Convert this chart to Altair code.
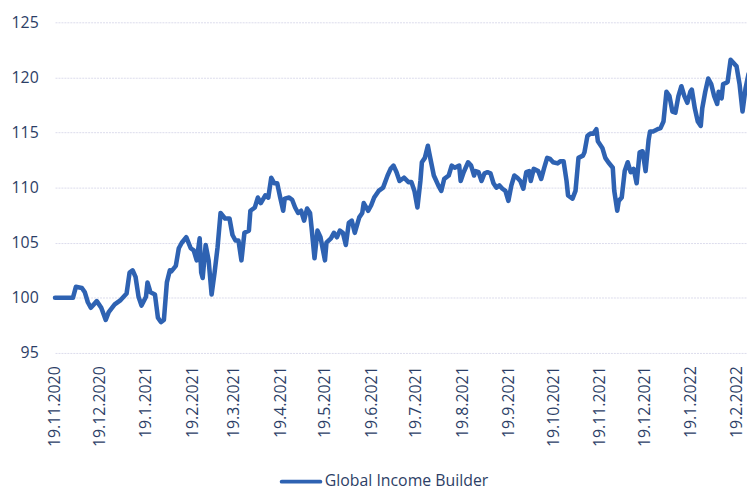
import altair as alt
import pandas as pd

# Day offsets from 19.11.2020 and index values
days = [0, 4, 8, 12, 14, 18, 20, 22, 24, 28, 31, 34, 36, 40, 44, 48, 50, 52, 54, 56,
        58, 61, 62, 64, 67, 69, 71, 73, 75, 77, 78, 81, 83, 85, 88, 91, 93, 95, 97, 98,
        99, 101, 103, 105, 107, 109, 111, 114, 117, 119, 121, 123, 125, 127, 130, 131, 134, 136, 138, 141,
        143, 145, 147, 149, 151, 153, 154, 157, 159, 161, 163, 165, 167, 169, 171, 172, 174, 176, 178, 181,
        182, 185, 187, 189, 191, 193, 195, 197, 199, 201, 204, 206, 207, 210, 212, 214, 217, 220, 223, 225,
        227, 229, 231, 234, 237, 239, 241, 243, 245, 246, 248, 250, 251, 254, 255, 257, 259, 261, 264, 266,
        268, 271, 272, 274, 277, 279, 281, 282, 284, 286, 288, 290, 292, 294, 296, 298, 300, 302, 304, 306,
        308, 310, 312, 314, 316, 318, 319, 321, 324, 326, 328, 330, 332, 334, 337, 339, 341, 343, 344, 347,
        349, 351, 354, 355, 357, 359, 361, 363, 364, 367, 369, 371, 374, 375, 377, 378, 380, 382, 384, 386,
        388, 390, 392, 394, 396, 398, 399, 401, 404, 406, 408, 410, 412, 414, 416, 418, 420, 422, 424, 426,
        427, 429, 431, 433, 434, 436, 438, 440, 442, 444, 445, 447, 448, 450, 451, 453, 455, 457, 459, 461,
        463, 465]
values = [100.0, 100.0, 100.0, 100.0, 101.0, 100.9, 100.5, 99.6, 99.1, 99.7, 99.1, 98.0, 98.7, 99.4, 99.8, 100.4, 102.3, 102.5, 101.9, 100.1,
          99.3, 100.1, 101.4, 100.5, 100.3, 98.2, 97.8, 98.0, 101.4, 102.5, 102.4, 102.9, 104.5, 105.0, 105.5, 104.5, 104.3, 103.4, 105.4, 102.3,
          101.8, 104.8, 103.4, 100.3, 102.3, 104.6, 107.7, 107.2, 107.2, 105.7, 105.2, 105.2, 103.4, 105.9, 106.1, 107.9, 108.2, 109.1, 108.6, 109.3,
          109.1, 110.9, 110.4, 110.4, 109.1, 107.9, 109.0, 109.1, 108.9, 108.2, 107.7, 107.9, 107.0, 108.1, 107.7, 106.4, 103.6, 106.1, 105.5, 103.4,
          105.0, 105.4, 105.9, 105.5, 106.1, 105.9, 104.8, 106.8, 107.0, 105.9, 107.3, 107.7, 108.6, 107.9, 108.4, 109.1, 109.7, 110.0, 111.1, 111.7,
          112.0, 111.4, 110.6, 110.9, 110.5, 110.5, 109.7, 108.2, 110.6, 112.3, 112.7, 113.8, 113.1, 111.1, 110.8, 110.2, 109.7, 110.8, 111.1, 112.0,
          111.8, 112.0, 110.6, 111.4, 112.3, 112.0, 111.1, 111.5, 111.4, 110.6, 111.3, 111.4, 111.3, 110.4, 110.0, 110.2, 109.9, 109.7, 108.8, 110.2,
          111.1, 110.9, 110.6, 109.9, 111.4, 111.5, 110.6, 111.7, 111.5, 110.8, 111.8, 112.7, 112.6, 112.3, 112.2, 112.4, 112.4, 110.6, 109.3, 109.0,
          109.7, 112.7, 112.9, 113.2, 114.7, 114.9, 114.9, 115.3, 114.2, 113.6, 112.7, 112.3, 111.8, 109.7, 107.9, 108.8, 109.1, 111.5, 112.3, 111.4,
          111.7, 110.4, 113.2, 113.3, 111.5, 114.3, 115.1, 115.1, 115.3, 115.4, 116.0, 118.7, 118.3, 116.9, 116.8, 118.3, 119.2, 118.3, 117.7, 118.7,
          118.9, 117.2, 116.0, 115.6, 117.2, 118.7, 119.9, 119.4, 118.3, 117.6, 118.7, 118.1, 119.4, 119.5, 119.6, 121.6, 121.3, 121.0, 119.4, 116.9,
          119.0, 120.3]

series_name = "Global Income Builder"
y_ticks = [95, 100, 105, 110, 115, 120, 125]
tick_months = [(2020, 11), (2020, 12), (2021, 1), (2021, 2), (2021, 3), (2021, 4), (2021, 5), (2021, 6),
               (2021, 7), (2021, 8), (2021, 9), (2021, 10), (2021, 11), (2021, 12), (2022, 1), (2022, 2)]

start = pd.Timestamp("2020-11-19")
df = pd.DataFrame({
    "date": [start + pd.Timedelta(days=d) for d in days],
    "value": values,
    "series": series_name,
})
legend_df = pd.DataFrame({"series": [series_name]})

label_color = "#2c3e66"
line_color = "#2e62b2"
font = "Open Sans"

x_values = [alt.DateTime(year=y, month=m, date=19) for (y, m) in tick_months]

line = alt.Chart(df).mark_line(strokeWidth=4.6, strokeJoin="round", strokeCap="round",
                               color=line_color).encode(
    x=alt.X("date:T",
            scale=alt.Scale(domain=[alt.DateTime(year=2020, month=11, date=19),
                                    alt.DateTime(year=2022, month=2, date=26)], nice=False),
            axis=alt.Axis(values=x_values, format="%-d.%-m.%Y", labelAngle=270,
                          grid=False, domain=False, ticks=False, labelPadding=13,
                          labelFont=font, labelFontSize=16, labelColor=label_color,
                          labelOverlap=False, labelBound=False, labelFlush=False, title=None)),
    y=alt.Y("value:Q",
            scale=alt.Scale(domain=[95, 125], nice=False, zero=False),
            axis=alt.Axis(values=y_ticks, domain=False, ticks=False, labelPadding=17,
                          labelFont=font, labelFontSize=16, labelColor=label_color,
                          gridColor="#dcdcec", gridWidth=1, gridDash=[2, 1], title=None)),
)

# Legend drawn below the plot: a short thick stroke and the series name
legend_symbol = alt.Chart(legend_df).mark_rule(strokeWidth=4, strokeCap="round",
                                               color=line_color).encode(
    x=alt.value(229), x2=alt.value(268), y=alt.value(464)
)
legend_text = alt.Chart(legend_df).mark_text(align="left", baseline="middle", font=font,
                                             fontSize=16, color=label_color).encode(
    text="series:N", x=alt.value(272.5), y=alt.value(463)
)

chart = alt.layer(line, legend_symbol, legend_text).properties(
    width=699,
    height=334,
    autosize=alt.AutoSizeParams(type="none"),
    padding={"left": 47.5, "top": 12, "right": 0, "bottom": 137},
).configure(background="white").configure_view(stroke=None)

chart.save("out.html", embed_options={"renderer": "svg", "actions": False})
